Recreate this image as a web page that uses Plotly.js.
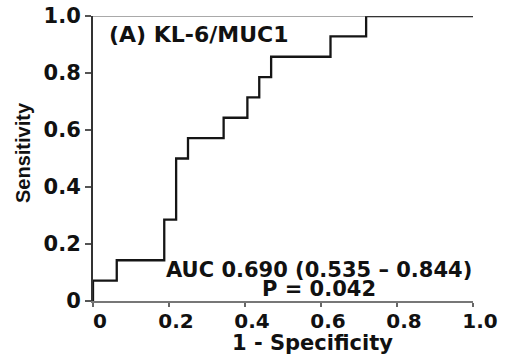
<!DOCTYPE html>
<html>
<head>
<meta charset="utf-8">
<script src="https://cdn.plot.ly/plotly-3.0.1.min.js"></script>
<style>
  html, body { margin: 0; padding: 0; background: #fff; }
  #chart { width: 509px; height: 358px; }
</style>
</head>
<body>
<div id="chart"></div>
<script>
// ROC curve corner points (1 - specificity, sensitivity)
const fpr = [0, 0, 0.0625, 0.1875, 0.21875, 0.25, 0.34375, 0.40625, 0.4375, 0.46875, 0.625, 0.71875, 1.0];
const tpr = [0, 0.0714, 0.1429, 0.2857, 0.5, 0.5714, 0.6429, 0.7143, 0.7857, 0.8571, 0.9286, 1.0, 1.0];
const tickVals = [0, 0.2, 0.4, 0.6, 0.8, 1.0];
const tickText = ['0', '0.2', '0.4', '0.6', '0.8', '1.0'];
const panelTitle = '(A) KL-6/MUC1';
const aucText = 'AUC 0.690 (0.535 \u2013 0.844)';
const pText = 'P = 0.042';
const xTitle = '1 - Specificity';
const yTitle = 'Sensitivity';

const wide = 'DejaVu Sans, Arial, sans-serif';
const arial = 'Liberation Sans, Arial, sans-serif';

const trace = {
  x: fpr, y: tpr, type: 'scatter', mode: 'lines',
  line: { shape: 'hv', color: '#151515', width: 2.3 },
  hoverinfo: 'skip', showlegend: false, cliponaxis: false
};

const layout = {
  width: 509, height: 358,
  margin: { l: 93, r: 36, t: 16, b: 57 },
  paper_bgcolor: '#fff', plot_bgcolor: '#fff',
  showlegend: false,
  xaxis: {
    range: [0, 1], tickvals: tickVals, ticktext: tickText,
    showgrid: false, zeroline: false,
    showline: true, linecolor: '#777', linewidth: 2,
    ticks: 'outside', ticklen: 4, tickwidth: 2, tickcolor: '#666',
    ticklabelshift: 7, ticklabelstandoff: -3,
    tickfont: { family: wide, size: 20, color: '#111', weight: 'bold' }
  },
  yaxis: {
    range: [0, 1], tickvals: tickVals, ticktext: tickText,
    showgrid: false, zeroline: false,
    showline: true, linecolor: '#333', linewidth: 2,
    ticks: 'outside', ticklen: 6, tickwidth: 2, tickcolor: '#555',
    tickfont: { family: wide, size: 21, color: '#111', weight: 'bold' }
  },
  shapes: [
    { type: 'line', xref: 'x', yref: 'y', x0: 0, x1: 1, y0: 1, y1: 1,
      line: { color: '#555', width: 1.2 } }
  ],
  annotations: [
    { text: panelTitle, xref: 'x', yref: 'y', x: 0.28, y: 0.935, xanchor: 'center', yanchor: 'middle',
      showarrow: false, font: { family: wide, size: 22, color: '#111', weight: 'bold' } },
    { text: aucText, xref: 'x', yref: 'y', x: 0.596, y: 0.108, xanchor: 'center', yanchor: 'middle',
      showarrow: false, font: { family: wide, size: 21, color: '#111', weight: 'bold' } },
    { text: pText, xref: 'x', yref: 'y', x: 0.596, y: 0.043, xanchor: 'center', yanchor: 'middle',
      showarrow: false, font: { family: wide, size: 21, color: '#111', weight: 'bold' } },
    { text: xTitle, xref: 'paper', yref: 'paper', x: (312 - 93) / 380, y: (301 - 343) / 285, xanchor: 'center', yanchor: 'middle',
      showarrow: false, font: { family: wide, size: 21, color: '#111', weight: 'bold' } },
    { text: yTitle, xref: 'paper', yref: 'paper', x: (23 - 93) / 380, y: (301 - 153) / 285, xanchor: 'center', yanchor: 'middle',
      textangle: -90, showarrow: false, font: { family: arial, size: 20, color: '#111', weight: 'bold' } }
  ]
};

Plotly.newPlot('chart', [trace], layout, { staticPlot: true, displayModeBar: false });
</script>
</body>
</html>
